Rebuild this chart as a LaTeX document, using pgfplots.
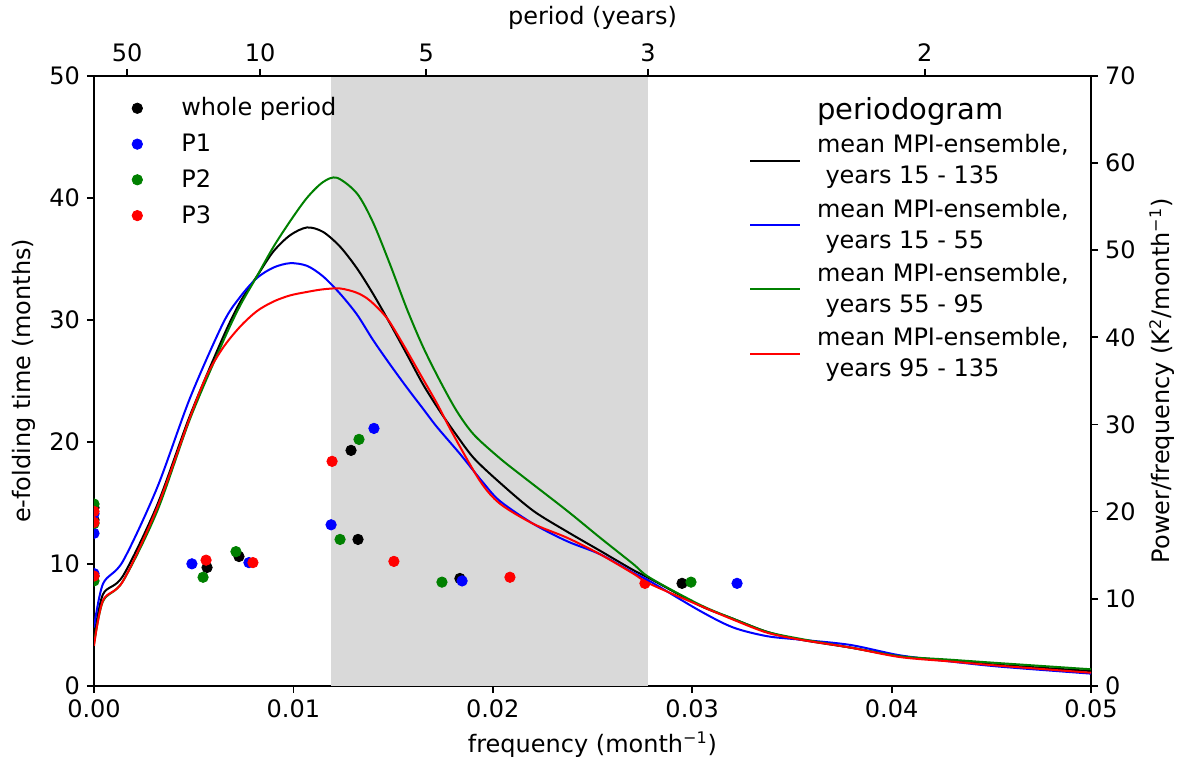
\documentclass[border=0pt]{standalone}
\usepackage{fontspec}
\setmainfont{DejaVu Sans}
\usepackage{pgfplots}
\pgfplotsset{compat=1.18}

\definecolor{mplblue}{RGB}{0,0,255}
\definecolor{mplgreen}{RGB}{0,128,0}
\definecolor{mplred}{RGB}{255,0,0}
\definecolor{spangray}{RGB}{217,217,217}

\pgfplotsset{
  every axis/.append style={
    scale only axis, width=498.5pt, height=305pt,
    xmin=0, xmax=0.05,
    axis line style={line width=0.9pt},
    every tick/.style={line width=0.9pt, black},
    major tick length=3.5pt,
    tick align=outside,
    scaled x ticks=false,
    tick label style={font=\fontsize{12}{14}\selectfont},
    label style={font=\fontsize{12}{14}\selectfont},
    /pgf/number format/assume math mode=true,
  },
}

\begin{document}
\begin{tikzpicture}
% e-folding times (left axis)
\begin{axis}[
  name=ax,
  ymin=0, ymax=50,
  xtick={0,0.01,0.02,0.03,0.04,0.05},
  xticklabels={0.00,0.01,0.02,0.03,0.04,0.05},
  ytick={0,10,20,30,40,50},
  xtick pos=lower, ytick pos=left,
  xlabel={frequency (month\textsuperscript{−1})},
  ylabel={e-folding time (months)},
  clip marker paths=true,
  legend style={at={(0.031,0.978)}, anchor=north west, draw=none, fill=none,
    font=\fontsize{12}{14}\selectfont, row sep=3.5pt},
  legend cell align=left,
  legend image code/.code={
    \path[draw=none, fill=none] (-3pt,0pt) -- (20pt,0pt);
    \draw[#1, only marks] plot coordinates {(0pt,0pt)};
  },
]
\addplot[fill=spangray, draw=none, forget plot] coordinates {(0.011905,50) (0.027778,50)} \closedcycle;

\addplot[only marks, mark=*, mark size=2.6pt, black] coordinates {
  (0,14.6) (0,13.6) (0,9.0) (0.00567,9.7) (0.00727,10.6)
  (0.01289,19.3) (0.01324,12.0) (0.01835,8.8) (0.02949,8.4)
};
\addlegendentry{whole period}
\addplot[only marks, mark=*, mark size=2.6pt, mplblue] coordinates {
  (0,14.1) (0,12.5) (0,9.2) (0.00491,10.0) (0.00777,10.1)
  (0.01189,13.2) (0.01404,21.1) (0.01846,8.6) (0.03225,8.4)
};
\addlegendentry{P1}
\addplot[only marks, mark=*, mark size=2.6pt, mplgreen] coordinates {
  (0,14.9) (0,13.3) (0,8.6) (0.00547,8.9) (0.00712,11.0)
  (0.01234,12.0) (0.01329,20.2) (0.01745,8.5) (0.02994,8.5)
};
\addlegendentry{P2}
\addplot[only marks, mark=*, mark size=2.6pt, mplred] coordinates {
  (0,14.3) (0,13.4) (0,9.0) (0.00562,10.3) (0.00797,10.1)
  (0.01194,18.4) (0.01504,10.2) (0.02086,8.9) (0.02763,8.4)
};
\addlegendentry{P3}
\end{axis}

% periodograms (right axis)
\begin{axis}[
  ymin=0, ymax=70,
  axis x line*=top, axis y line*=right,
  xtick={0.0016667,0.0083333,0.0166667,0.0277778,0.0416667},
  xticklabels={50,10,5,3,2},
  ytick={0,10,20,30,40,50,60,70},
  xlabel={period (years)},
  ylabel={Power/frequency (K\textsuperscript{2}/month\textsuperscript{−1})},
  legend style={at={(0.988,0.978)}, anchor=north east, draw=none, fill=none,
    font=\fontsize{12}{15.5}\selectfont, row sep=2pt, cells={align=left}},
  legend cell align=left,
  legend image code/.code={
    \draw[#1] (0pt,0pt) -- (25pt,0pt);
    \path[draw=none, fill=none] (25pt,0pt) -- (31.5pt,0pt);
  },
]
\addlegendimage{empty legend}
\addlegendentry{\fontsize{14.5}{17}\selectfont periodogram}

\addplot[black, line width=1pt, smooth] coordinates {
  (0,5.5) (0.00045,10.5) (0.00145,12.6) (0.00316,20.7) (0.00481,31.0)
  (0.00647,40.0) (0.00732,44.0) (0.00817,47.0) (0.00898,49.8) (0.00983,51.7)
  (0.01068,52.6) (0.01148,52.1) (0.01234,50.4) (0.01319,47.9) (0.01399,45.0)
  (0.01484,41.6) (0.0157,38.0) (0.0165,34.6) (0.01735,31.5) (0.0182,28.7)
  (0.01906,26.1) (0.02036,23.3) (0.02202,20.1) (0.02372,17.7) (0.02538,15.5)
  (0.02703,13.3) (0.02788,12.3) (0.03039,9.2) (0.03205,7.7) (0.03375,6.2)
  (0.03541,5.3) (0.03791,4.4) (0.04042,3.4) (0.04293,2.9) (0.04544,2.4)
  (0.05,1.7)
};
\addlegendentry{mean MPI-ensemble,\\\hspace{0.35em}years 15 - 135}

\addplot[mplblue, line width=1pt, smooth] coordinates {
  (0,6.7) (0.00045,11.7) (0.00145,14.3) (0.00316,22.7) (0.00481,33.0)
  (0.00647,41.6) (0.00732,44.6) (0.00817,46.8) (0.009,48.0) (0.00983,48.5)
  (0.01068,48.2) (0.01148,47.0) (0.01234,45.0) (0.01319,42.6) (0.01399,39.7)
  (0.01484,36.9) (0.0157,34.2) (0.0165,31.8) (0.0172,29.7) (0.01836,26.6)
  (0.01952,23.3) (0.02036,21.2) (0.02202,18.6) (0.02372,16.6) (0.02538,15.1)
  (0.02703,13.0) (0.02788,12.0) (0.03039,8.6) (0.03205,6.7) (0.03375,5.7)
  (0.03541,5.3) (0.03791,4.7) (0.04042,3.5) (0.04293,2.8) (0.04544,2.2)
  (0.05,1.4)
};
\addlegendentry{mean MPI-ensemble,\\\hspace{0.35em}years 15 - 55}

\addplot[mplgreen, line width=1pt, smooth] coordinates {
  (0,4.8) (0.00045,9.7) (0.00145,12.0) (0.00316,20.0) (0.00481,30.6)
  (0.00647,39.5) (0.00732,43.6) (0.00817,47.0) (0.00898,50.3) (0.00983,53.3)
  (0.01068,56.0) (0.01148,57.8) (0.01219,58.3) (0.01319,56.5) (0.01399,53.2)
  (0.01484,48.4) (0.0157,43.2) (0.0165,38.9) (0.01735,35.0) (0.0182,31.5)
  (0.01906,28.8) (0.02036,26.1) (0.02152,24.0) (0.02372,20.1) (0.02538,17.0)
  (0.02703,14.0) (0.02788,12.4) (0.03039,9.3) (0.03205,7.7) (0.03375,6.2)
  (0.03541,5.4) (0.03791,4.4) (0.04042,3.4) (0.04293,3.0) (0.04544,2.6)
  (0.05,1.9)
};
\addlegendentry{mean MPI-ensemble,\\\hspace{0.35em}years 55 - 95}

\addplot[mplred, line width=1pt, smooth] coordinates {
  (0,4.6) (0.00045,9.8) (0.00145,12.0) (0.00316,20.4) (0.00481,30.8)
  (0.00565,35.6) (0.00647,38.8) (0.00732,41.2) (0.00817,43.0) (0.009,44.1)
  (0.00983,44.8) (0.01068,45.2) (0.01148,45.5) (0.01234,45.6) (0.01319,45.1)
  (0.01384,44.2) (0.01469,42.2) (0.0155,39.2) (0.01635,35.8) (0.0172,32.4)
  (0.018,28.9) (0.01936,23.5) (0.02036,20.9) (0.02202,18.6) (0.02372,17.0)
  (0.02538,15.1) (0.02703,12.9) (0.02788,11.7) (0.03039,9.2) (0.03205,7.6)
  (0.03375,6.1) (0.03541,5.3) (0.03791,4.4) (0.04042,3.3) (0.04293,2.8)
  (0.04544,2.3) (0.05,1.5)
};
\addlegendentry{mean MPI-ensemble,\\\hspace{0.35em}years 95 - 135}
\end{axis}

\path ([xshift=-47pt,yshift=-41pt]ax.south west) rectangle ([xshift=53.5pt,yshift=37.5pt]ax.north east);
\end{tikzpicture}
\end{document}
